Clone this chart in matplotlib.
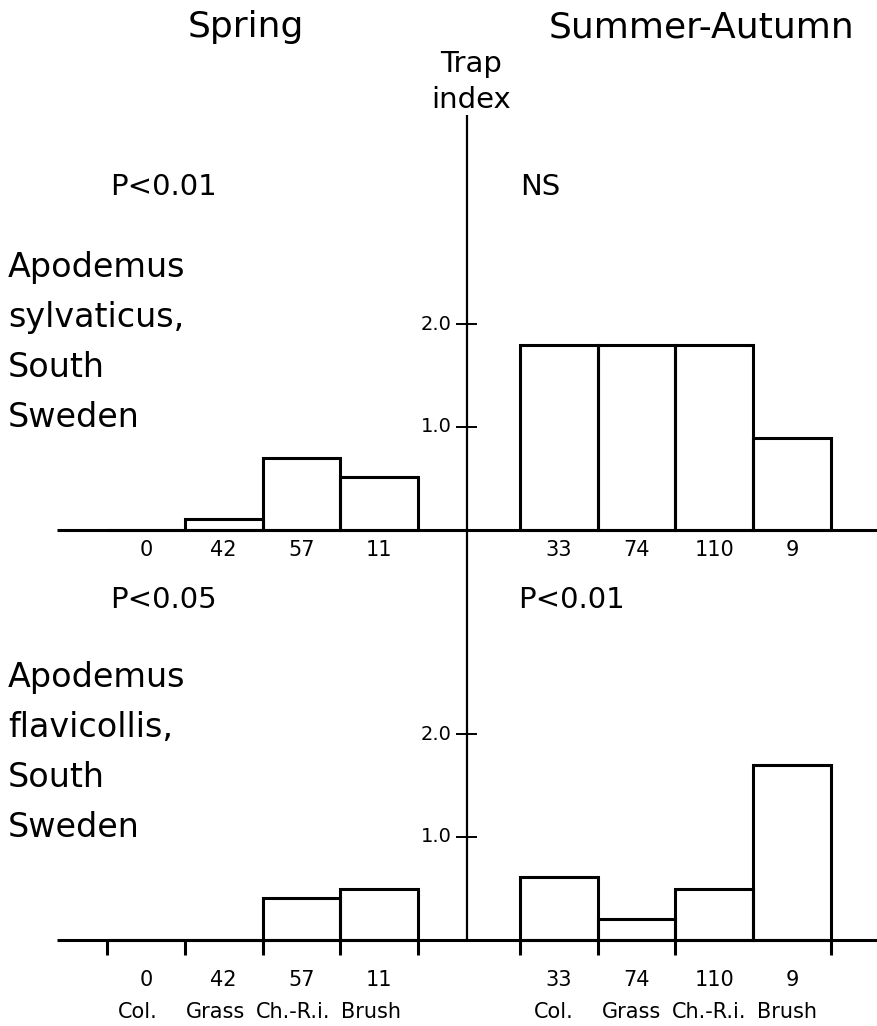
import matplotlib.pyplot as plt
import numpy as np

####################################################
#       data
####################################################
habitats = ["Col.", "Grass", "Ch.-R.i.", "Brush"]
spring_n = [0, 42, 57, 11]
summer_n = [33, 74, 110, 9]

# trap index, Apodemus sylvaticus
sylv_spring = [0.0, 0.11, 0.70, 0.51]
sylv_summer = [1.80, 1.80, 1.80, 0.89]
# trap index, Apodemus flavicollis
flav_spring = [0.0, 0.0, 0.41, 0.50]
flav_summer = [0.61, 0.20, 0.50, 1.70]

sylv_p = ["P<0.01", "NS"]
flav_p = ["P<0.05", "P<0.01"]
sylv_name = ["Apodemus", "sylvaticus,", "South", "Sweden"]
flav_name = ["Apodemus", "flavicollis,", "South", "Sweden"]

####################################################
#       layout (pixels of the 878x1026 page)
####################################################
W, H = 878, 1026
PX_X = 77.75          # px per bar
PX_Y = 103.0          # px per trap index unit
X0 = 107              # left edge of first spring bar
spring_left = np.arange(4)
summer_left = 5.31 + np.arange(4)
axis_x = 4.63
lw = 2.2


def fx(px):
    return px / W


def fy(py):
    return 1 - py / H


fig = plt.figure(figsize=(W / 100, H / 100), dpi=100)
plt.rcParams['font.family'] = ['DejaVu Sans']


def make_panel(base_px, spring, summer, ticks_below, tick_skip):
    ax = fig.add_axes([0, 0, 1, 1])
    ax.set_xlim(-X0 / PX_X, (W - X0) / PX_X)
    ax.set_ylim(-(H - base_px) / PX_Y, base_px / PX_Y)
    ax.axis('off')
    ax.patch.set_alpha(0)

    ax.hlines(0, (57 - X0) / PX_X, (W - X0) / PX_X, color='black', lw=lw)
    ax.bar(spring_left, spring, width=1, align='edge', fill=False,
           edgecolor='black', linewidth=lw)
    ax.bar(summer_left, summer, width=1, align='edge', fill=False,
           edgecolor='black', linewidth=lw)

    # y ticks on the central axis
    ax.hlines([1, 2], axis_x - 0.135, axis_x + 0.135, color='black', lw=1.4)
    for v in [1, 2]:
        ax.text(axis_x - 15 / PX_X, v, "%.1f" % v, ha='right', va='center',
                fontsize=14)

    if ticks_below:
        edges = list(np.arange(5)) + [e for i, e in enumerate(summer_left[0] + np.arange(5))
                                      if i not in tick_skip]
        ax.vlines(edges, -15 / PX_Y, 0, color='black', lw=lw)
        n_y = -46 / PX_Y
    else:
        n_y = -26 / PX_Y

    for left, n in zip(spring_left, spring_n):
        ax.text(left + 0.5, n_y, str(n), ha='center', va='baseline', fontsize=15)
    for left, n in zip(summer_left, summer_n):
        ax.text(left + 0.5, n_y, str(n), ha='center', va='baseline', fontsize=15)
    return ax


ax_top = make_panel(530, sylv_spring, sylv_summer, False, [])
ax_bot = make_panel(940, flav_spring, flav_summer, True, [3])

# central vertical axis through both panels
ax_bot.vlines(axis_x, 0, (940 - 115) / PX_Y, color='black', lw=1.6)

# habitat names under the lower panel
for left, name in zip(spring_left, habitats):
    ax_bot.text(left + 0.5 - 8 / PX_X, -78 / PX_Y, name, ha='center',
                va='baseline', fontsize=15)
for left, name in zip(summer_left, habitats):
    ax_bot.text(left + 0.5 - 5 / PX_X, -78 / PX_Y, name, ha='center',
                va='baseline', fontsize=15)

####################################################
#       titles and labels
####################################################
fig.text(fx(246), fy(37), "Spring", ha='center', va='baseline', fontsize=26)
fig.text(fx(702), fy(37), "Summer-Autumn", ha='center', va='baseline', fontsize=26)
fig.text(fx(471), fy(72), "Trap", ha='center', va='baseline', fontsize=21)
fig.text(fx(471), fy(108), "index", ha='center', va='baseline', fontsize=21)

fig.text(fx(110), fy(195), sylv_p[0], va='baseline', fontsize=21)
fig.text(fx(520), fy(195), sylv_p[1], va='baseline', fontsize=21)
fig.text(fx(110), fy(608), flav_p[0], va='baseline', fontsize=21)
fig.text(fx(518), fy(608), flav_p[1], va='baseline', fontsize=21)

for i, line in enumerate(sylv_name):
    fig.text(fx(8), fy(277 + i * 50), line, va='baseline', fontsize=24)
for i, line in enumerate(flav_name):
    fig.text(fx(8), fy(687 + i * 50), line, va='baseline', fontsize=24)

fig.savefig("out.png", dpi=100, facecolor='white')
